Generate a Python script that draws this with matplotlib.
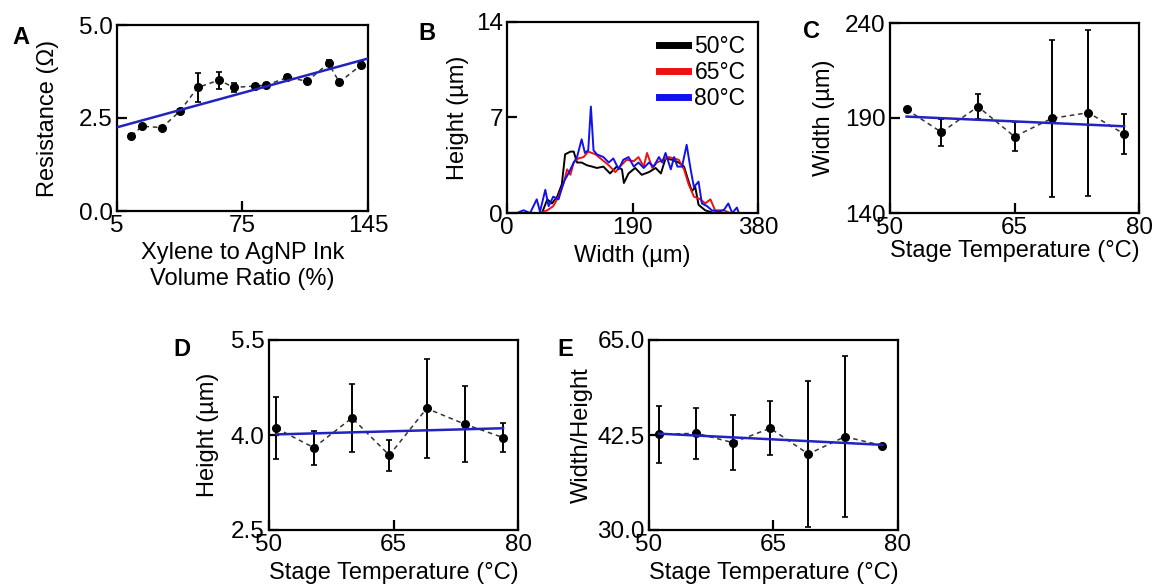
import numpy as np
import matplotlib
matplotlib.use("Agg")
import matplotlib.pyplot as plt

plt.rcParams['font.family'] = ['Liberation Sans', 'DejaVu Sans']

# A - resistance vs xylene ratio
ratio = [13, 19, 30, 40, 50, 62, 70, 82, 88, 100, 111, 123, 129, 141]
resist = [2.02, 2.28, 2.24, 2.68, 3.32, 3.52, 3.32, 3.36, 3.38, 3.59, 3.49, 3.97, 3.46, 3.92]
resist_err = [0.05, 0.06, 0.05, 0.05, 0.39, 0.23, 0.12, 0.05, 0.05, 0.06, 0.05, 0.08, 0.05, 0.08]

# B - height profiles
x50 = [53, 61, 68, 76, 83, 88, 96, 101, 106, 113, 121, 129, 136, 146, 156, 166, 174, 177,
       184, 194, 204, 215, 225, 233, 240, 250, 260, 268, 275, 280, 285, 290, 300, 313]
h50 = [0, 1.0, 0.7, 1.2, 2.1, 4.3, 4.5, 4.5, 3.7, 3.7, 3.5, 3.4, 3.3, 3.4, 2.9, 3.4, 3.2, 2.2,
       2.9, 3.3, 2.8, 3.0, 3.3, 2.9, 4.0, 3.9, 3.7, 3.4, 2.3, 1.6, 1.9, 0.6, 0.2, 0]
x65 = [50, 61, 70, 78, 86, 91, 96, 101, 108, 116, 123, 134, 144, 154, 164, 171, 181, 192,
       199, 207, 212, 220, 227, 237, 245, 253, 260, 268, 275, 283, 293, 300, 308, 315, 328, 338]
h65 = [0, 0.2, 0.5, 1.2, 2.2, 3.2, 2.8, 3.7, 4.0, 4.1, 4.5, 4.3, 3.9, 3.5, 3.0, 3.4, 3.9, 3.8,
       4.1, 3.4, 4.4, 3.3, 3.7, 3.9, 4.1, 4.0, 3.9, 3.2, 2.1, 1.2, 1.0, 0.7, 1.0, 0.2, 0.2, 0]
x80 = [15, 25, 35, 45, 50, 58, 63, 70, 78, 86, 93, 101, 106, 113, 118, 123, 127, 131, 136,
       146, 154, 161, 169, 176, 184, 192, 199, 207, 215, 222, 230, 235, 240, 248, 253, 258,
       265, 272, 278, 283, 290, 295, 303, 310, 320, 328, 335, 341, 348, 351]
h80 = [0, 0.2, 0, 1.0, 0.1, 1.7, 0.5, 1.2, 1.0, 2.3, 2.9, 3.7, 4.1, 5.4, 4.4, 4.6, 7.8, 4.6, 4.3,
       4.1, 3.7, 4.0, 3.2, 3.9, 4.1, 3.4, 3.7, 3.3, 3.7, 3.4, 4.1, 3.7, 4.4, 3.2, 4.1, 3.4,
       3.4, 5.0, 3.2, 1.9, 2.3, 0.7, 0.5, 0.2, 0.1, 0.2, 0.7, 0, 0.4, 0]

# C, D, E - vs stage temperature
temp_c = [52, 56.2, 60.6, 65, 69.5, 73.9, 78.2]
width = [194.5, 182.5, 196, 180.2, 189.8, 192.8, 181.6]
width_err = [0, 7.2, 6.5, 7.8, 41.5, 43.7, 10.7]

temp_d = [50.9, 55.4, 60, 64.5, 69, 73.6, 78.2]
height = [4.105, 3.80, 4.27, 3.68, 4.42, 4.17, 3.96]
height_err = [0.49, 0.27, 0.54, 0.245, 0.78, 0.6, 0.23]

temp_e = [51.2, 55.7, 60.1, 64.6, 69.2, 73.6, 78.1]
aspect = [42.66, 42.9, 40.7, 44.1, 38.0, 42.1, 40.0]
aspect_err = [6.7, 6.0, 6.6, 6.4, 17.4, 19, 0]

FIG_W, FIG_H = 1160, 586
fig = plt.figure(figsize=(11.6, 5.86), dpi=100)


def make_ax(left, top, right, bottom):
    return fig.add_axes([left / FIG_W, 1 - bottom / FIG_H, (right - left) / FIG_W, (bottom - top) / FIG_H])


def style(ax, xlim, xticks, ylim, yticks, yticklabels=None):
    ax.set_xlim(xlim)
    ax.set_ylim(ylim)
    ax.set_xticks(xticks)
    ax.set_yticks(yticks)
    if yticklabels is not None:
        ax.set_yticklabels(yticklabels)
    for s in ax.spines.values():
        s.set_linewidth(1.6)
    ax.tick_params(direction='in', length=7, width=1.6, labelsize=17.5, pad=3)


blue_fit = '#2323c0'


def scatter_fit(ax, x, y, err, full=None):
    ax.errorbar(x, y, yerr=err, fmt='o', color='black', ms=5.5, elinewidth=1.4,
                capsize=2.5, capthick=1.2, zorder=3)
    ax.plot(x, y, '--', color='#333333', lw=1.1, dashes=(3, 2.5), zorder=2)
    k, b = np.polyfit(x, y, 1)
    xs = np.array(full if full is not None else [x[0], x[-1]])
    ax.plot(xs, k * xs + b, color=blue_fit, lw=1.8, zorder=4)


# A
axA = make_ax(117, 25, 368, 211)
scatter_fit(axA, ratio, resist, resist_err, full=[5, 145])
style(axA, (5, 145), [5, 75, 145], (0, 5), [0, 2.5, 5], ['0.0', '2.5', '5.0'])
axA.set_ylabel('Resistance (Ω)', fontsize=17)
axA.set_xlabel('Xylene to AgNP Ink\nVolume Ratio (%)', fontsize=17, linespacing=1.25)
axA.yaxis.set_label_coords(-0.23, 0.5)
axA.xaxis.set_label_coords(0.5, -0.165)

# B
axB = make_ax(507, 22, 758, 213)
axB.plot(x50, h50, color='black', lw=1.4, label='50°C')
axB.plot(x65, h65, color='#ee1111', lw=1.4, label='65°C')
axB.plot(x80, h80, color='#1111ee', lw=1.4, label='80°C')
style(axB, (0, 380), [0, 190, 380], (0, 14), [0, 7, 14])
axB.set_ylabel('Height (µm)', fontsize=17)
axB.set_xlabel('Width (µm)', fontsize=17)
axB.yaxis.set_label_coords(-0.15, 0.5)
axB.xaxis.set_label_coords(0.5, -0.165)
leg = axB.legend(loc='upper right', frameon=False, fontsize=16.5, handlelength=1.25,
                 handletextpad=0.3, labelspacing=0.15, borderaxespad=0.1, borderpad=0.45)
for line in leg.get_lines():
    line.set_linewidth(5)

# C
axC = make_ax(890, 23, 1139, 213)
scatter_fit(axC, temp_c, width, width_err)
style(axC, (50, 80), [50, 65, 80], (140, 240), [140, 190, 240])
axC.set_ylabel('Width (µm)', fontsize=17)
axC.set_xlabel('Stage Temperature (°C)', fontsize=17)
axC.yaxis.set_label_coords(-0.22, 0.5)
axC.xaxis.set_label_coords(0.5, -0.14)

# D
axD = make_ax(269, 340, 518, 530)
scatter_fit(axD, temp_d, height, height_err)
style(axD, (50, 80), [50, 65, 80], (2.5, 5.5), [2.5, 4.0, 5.5], ['2.5', '4.0', '5.5'])
axD.set_ylabel('Height (µm)', fontsize=17)
axD.set_xlabel('Stage Temperature (°C)', fontsize=17)
axD.yaxis.set_label_coords(-0.2, 0.5)
axD.xaxis.set_label_coords(0.5, -0.17)

# E
axE = make_ax(649, 340, 898, 530)
scatter_fit(axE, temp_e, aspect, aspect_err)
style(axE, (50, 80), [50, 65, 80], (20, 65), [20, 42.5, 65], ['30.0', '42.5', '65.0'])
axE.set_ylabel('Width/Height', fontsize=17)
axE.set_xlabel('Stage Temperature (°C)', fontsize=17)
axE.yaxis.set_label_coords(-0.225, 0.5)
axE.xaxis.set_label_coords(0.5, -0.17)

# panel letters
for lbl, px, py in [('A', 12, 37), ('B', 418, 33), ('C', 803, 32), ('D', 173, 349), ('E', 557, 349)]:
    fig.text(px / FIG_W, 1 - py / FIG_H, lbl, fontsize=17, fontweight='bold', ha='left', va='center')

fig.savefig('out.png', dpi=100)
